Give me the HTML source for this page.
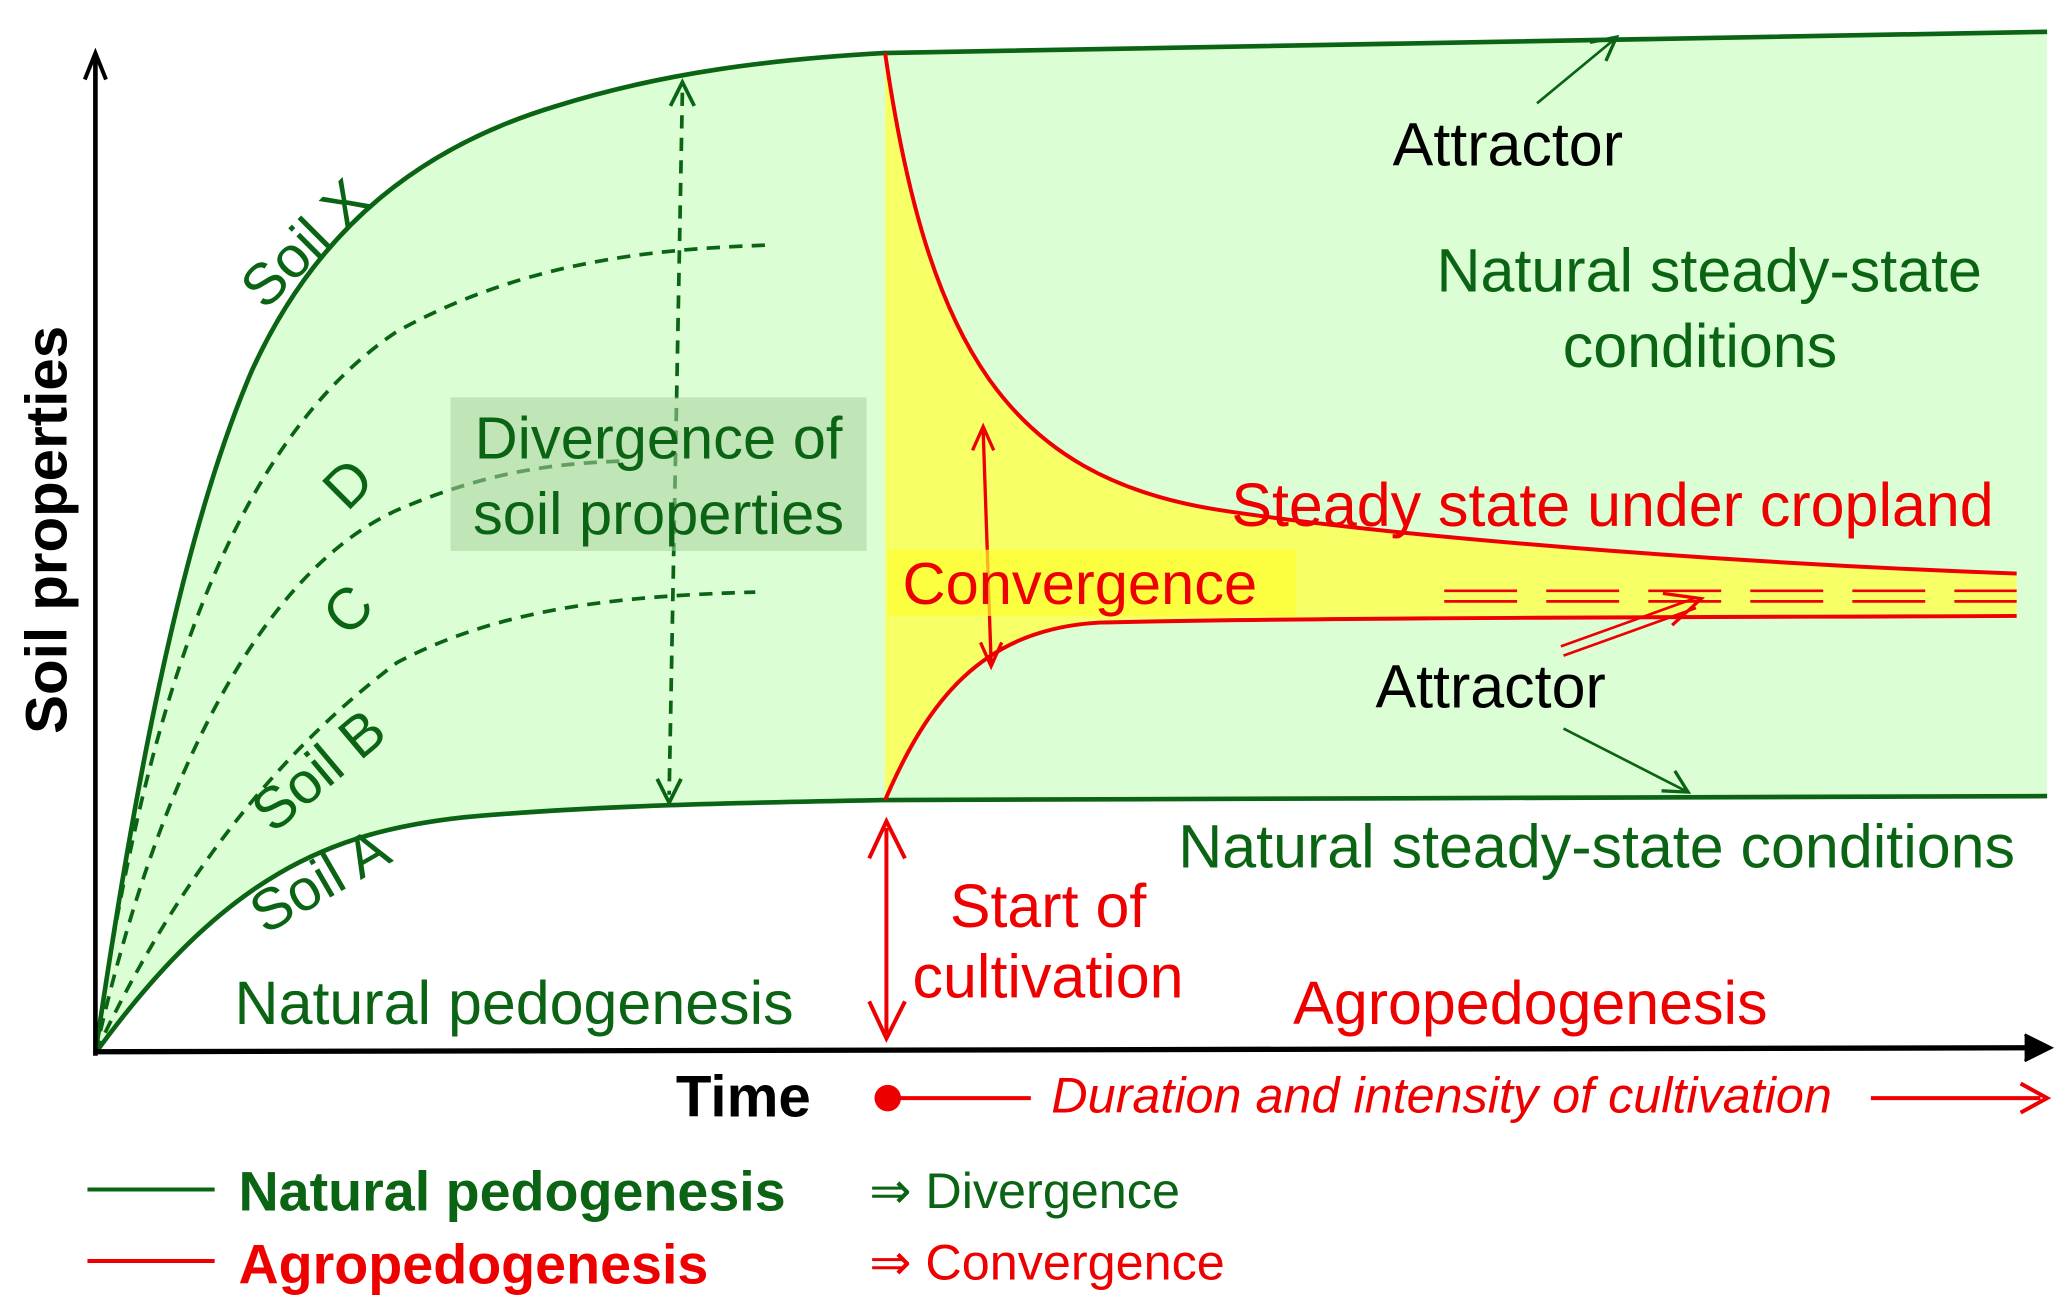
<!DOCTYPE html>
<html><head><style>html,body{margin:0;padding:0;background:#fff}svg{display:block}</style></head>
<body>
<svg width="2067" height="1314" viewBox="0 0 1560 992" preserveAspectRatio="none" xmlns="http://www.w3.org/2000/svg" font-family="Liberation Sans, sans-serif">
<!-- green region -->
<path d="M72,795 C95,640 130,420 190,280 C240,170 320,110 420,80 C500,55 580,45 668,40 L1545,24 L1545,601 L668,604 C560,606 450,608 350,617 C250,628 170,660 72,795 Z" fill="#dcfed4"/>
<path d="M72,795 C95,640 130,420 190,280 C240,170 320,110 420,80 C500,55 580,45 668,40 L1545,24" fill="none" stroke="#0a6414" stroke-width="3.5"/>
<path d="M72,795 C170,660 250,628 350,617 C450,608 560,606 668,604 L1545,601" fill="none" stroke="#0a6414" stroke-width="3.5"/>
<!-- yellow -->
<path d="M668,40 C700,260 760,360 920,385 C1050,405 1300,425 1522,433 L1522,465 C1300,466 1000,466 830,470 C740,475 700,530 668,604 Z" fill="#f6ff66"/>
<path d="M668,40 C700,260 760,360 920,385 C1050,405 1300,425 1522,433" fill="none" stroke="#e00" stroke-width="3"/>
<path d="M668,604 C700,530 740,475 830,470 C1000,466 1300,466 1522,465" fill="none" stroke="#e00" stroke-width="3"/>
<path d="M1090,446 L1522,446 M1090,454 L1522,454" stroke="#e00" stroke-width="2" stroke-dasharray="55,22"/>
<!-- dashed curves -->
<g fill="none" stroke="#0a6414" stroke-width="2.8" stroke-dasharray="10,7">
<path d="M72,795 C110,520 180,330 300,250 C400,195 500,188 580,185"/>
<path d="M72,795 C120,580 200,430 300,385 C370,355 420,350 470,348"/>
<path d="M72,795 C140,650 220,560 300,500 C380,458 470,450 570,447"/>
<path d="M515,70 L505,600"/>
</g>
<path d="M506,80 L515,62 L524,80 M496,588 L505,606 L514,588" fill="none" stroke="#0a6414" stroke-width="2.8"/>
<rect x="340" y="300" width="314" height="116" fill="#a9cf9f" opacity="0.55"/>
<!-- axes -->
<path d="M72,797 L72,44" stroke="#000" stroke-width="3.5"/>
<path d="M64,60 L72,40 L80,60" fill="none" stroke="#000" stroke-width="3"/>
<path d="M72,794 L1545,791" stroke="#000" stroke-width="4"/>
<path d="M1528,781 L1548,791 L1528,801" fill="#000" stroke="#000" stroke-width="2"/>
<!-- red arrows -->
<path d="M742,325 L748,500" stroke="#e00" stroke-width="2.5"/>
<path d="M734,340 L742,322 L750,340 M740,485 L748,503 L756,485" fill="none" stroke="#e00" stroke-width="2.5"/>
<path d="M669,625 L669,780" stroke="#e00" stroke-width="3"/>
<path d="M656,648 L669,620 L683,648 M656,756 L669,784 L683,756" fill="none" stroke="#e00" stroke-width="3"/>
<circle cx="670" cy="829" r="10" fill="#e00"/>
<path d="M670,829 L778,829 M1412,829 L1540,829" stroke="#e00" stroke-width="3"/>
<path d="M1525,818 L1545,829 L1525,840" fill="none" stroke="#e00" stroke-width="3"/>
<path d="M1178,488 L1278,452 M1180,495 L1280,459" stroke="#e00" stroke-width="2"/>
<path d="M1255,448 L1284,452 L1262,472" fill="none" stroke="#e00" stroke-width="2.5"/>
<!-- green small arrows -->
<path d="M1160,78 L1218,30" stroke="#0a6414" stroke-width="2"/>
<path d="M1200,32 L1220,28 L1212,46" fill="none" stroke="#0a6414" stroke-width="2.5"/>
<path d="M1180,550 L1272,597" stroke="#0a6414" stroke-width="2"/>
<path d="M1254,597 L1274,598 L1264,582" fill="none" stroke="#0a6414" stroke-width="2.5"/>
<!-- text -->
<g fill="#0a6414">
<text x="1290" y="220" text-anchor="middle" font-size="46">Natural steady‑state</text>
<text x="1283" y="277" text-anchor="middle" font-size="46">conditions</text>
<text x="497" y="346" text-anchor="middle" font-size="45">Divergence of</text>
<text x="497" y="403" text-anchor="middle" font-size="45">soil properties</text>
<text x="1205" y="655" text-anchor="middle" font-size="46">Natural steady‑state conditions</text>
<text x="388" y="773" text-anchor="middle" font-size="46">Natural pedogenesis</text>
<text transform="translate(200,235) rotate(-45)" font-size="44">Soil X</text>
<text transform="translate(262,387) rotate(-45)" font-size="44">D</text>
<text transform="translate(262,482) rotate(-45)" font-size="44">C</text>
<text transform="translate(206,630) rotate(-40)" font-size="44">Soil B</text>
<text transform="translate(200,706) rotate(-30)" font-size="44">Soil A</text>
</g>
<text x="1138" y="125" text-anchor="middle" font-size="46" fill="#000">Attractor</text>
<text x="1125" y="534" text-anchor="middle" font-size="46" fill="#000">Attractor</text>
<text x="1217" y="397" text-anchor="middle" font-size="46" fill="#e00">Steady state under cropland</text>
<rect x="670" y="415" width="308" height="50" fill="#ffff30" opacity="0.7"/>
<text x="815" y="456" text-anchor="middle" font-size="45" fill="#e00">Convergence</text>
<text x="791" y="700" text-anchor="middle" font-size="46" fill="#e00">Start of</text>
<text x="791" y="753" text-anchor="middle" font-size="46" fill="#e00">cultivation</text>
<text x="1155" y="773" text-anchor="middle" font-size="46" fill="#e00">Agropedogenesis</text>
<text x="1088" y="840" text-anchor="middle" font-size="38" font-style="italic" fill="#e00">Duration  and  intensity of cultivation</text>
<text x="561" y="843" text-anchor="middle" font-size="44" font-weight="bold" fill="#000">Time</text>
<text transform="translate(50,400) rotate(-90)" text-anchor="middle" font-size="44" font-weight="bold" fill="#000">Soil properties</text>
<!-- legend -->
<path d="M66,898 L162,898" stroke="#0a6414" stroke-width="3"/>
<path d="M66,952 L162,952" stroke="#e00" stroke-width="3"/>
<text x="180" y="914" font-size="42" font-weight="bold" fill="#0a6414">Natural pedogenesis</text>
<text x="180" y="969" font-size="42" font-weight="bold" fill="#e00">Agropedogenesis</text>
<text x="656" y="912" font-size="38" fill="#0a6414">⇒ Divergence</text>
<text x="656" y="966" font-size="38" fill="#e00">⇒ Convergence</text>
</svg>
</body></html>
